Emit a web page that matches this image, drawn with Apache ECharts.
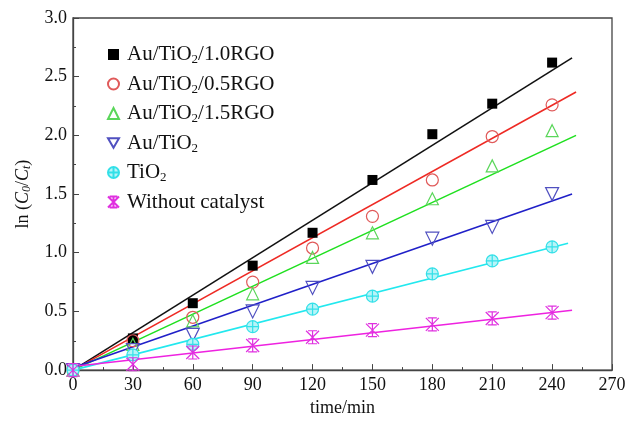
<!DOCTYPE html>
<html><head><meta charset="utf-8">
<script src="https://cdn.jsdelivr.net/npm/echarts@6/dist/echarts.min.js"></script>
<style>html,body{margin:0;padding:0;background:#fff}#c{width:630px;height:422px}</style>
</head><body><div id="c"></div>
<script>
var times = [0, 30, 60, 90, 120, 150, 180, 210, 240];
var names = ['Au/TiO2/1.0RGO', 'Au/TiO2/0.5RGO', 'Au/TiO2/1.5RGO', 'Au/TiO2', 'TiO2', 'Without catalyst'];
var rgo10 = [0, 0.27, 0.57, 0.89, 1.17, 1.62, 2.01, 2.27, 2.62];
var rgo05 = [0, 0.25, 0.45, 0.75, 1.04, 1.31, 1.62, 1.99, 2.26];
var rgo15 = [0, 0.22, 0.42, 0.65, 0.96, 1.17, 1.46, 1.74, 2.04];
var auTiO2 = [0, 0.17, 0.30, 0.50, 0.70, 0.88, 1.12, 1.22, 1.50];
var tiO2 = [0, 0.13, 0.22, 0.37, 0.52, 0.63, 0.82, 0.93, 1.05];
var noCat = [0, 0.05, 0.15, 0.21, 0.28, 0.34, 0.39, 0.44, 0.49];
// fitted lines: [x0, y0, x1, y1]
var fit10 = [0, 0.0, 250, 2.66];
var fit05 = [0, 0.0, 252, 2.37];
var fit15 = [0, 0.0, 252, 2.00];
var fitAu = [0, 0.02, 250, 1.50];
var fitTi = [0, 0.0, 248, 1.08];
var fitNo = [0, 0.03, 250, 0.51];
var xTicks = [0, 30, 60, 90, 120, 150, 180, 210, 240, 270];
var yTicks = ['0.0', '0.5', '1.0', '1.5', '2.0', '2.5', '3.0'];

var pts = [rgo10, rgo05, rgo15, auTiO2, tiO2, noCat];
var fits = [fit10, fit05, fit15, fitAu, fitTi, fitNo];
var lineColors = ['#111111', '#ee2a24', '#1fe01f', '#2020c8', '#22e8ee', '#ee22e0'];
var markColors = ['#000000', '#e05a5a', '#5ad65a', '#5050c0', '#33e0e8', '#e030e0'];
var symbols = [
  'rect', 'circle', 'triangle',
  'path://M-1,-0.87 L1,-0.87 L0,0.87 Z',
  'path://M-1,0 A1,1 0 1,1 1,0 A1,1 0 1,1 -1,0 Z M0,-1 L0,1 M-1,0 L1,0',
  'path://M-1,-1 L1,1 M1,-1 L-1,1 M-0.7,-1 L0.7,-1 M-0.7,1 L0.7,1 M0,-1 L0,1'
];
var sizes = [10, 12, 12, 13, 12, 13];
var fills = ['#000000', 'transparent', 'transparent', 'transparent', '#b8f4f8', 'transparent'];

var series = [];
for (var i = 0; i < 6; i++) {
  var f = fits[i];
  series.push({
    type: 'line', name: 'fit' + i, data: [[f[0], f[1]], [f[2], f[3]]],
    showSymbol: false, symbol: 'none', silent: true, z: 2,
    lineStyle: { color: lineColors[i], width: 1.6 }
  });
}
for (var i = 0; i < 6; i++) {
  series.push({
    type: 'scatter', name: names[i],
    data: times.map(function (t, k) { return [t, pts[i][k]]; }),
    symbol: symbols[i], symbolSize: sizes[i], z: 3,
    itemStyle: { color: fills[i], borderColor: markColors[i], borderWidth: i === 0 ? 0 : 1.2, opacity: 1 }
  });
}

function legFmt(n) {
  if (n === 'Without catalyst') return '{g|}{n|' + n + '}';
  var parts = n.split('2');
  return '{g|}{n|' + parts[0] + '}{s|2}' + (parts[1] ? '{n|' + parts[1] + '}' : '');
}
var serif = '"Liberation Serif", "DejaVu Serif", serif';
var chart = echarts.init(document.getElementById('c'));
chart.setOption({
  animation: false,
  backgroundColor: '#fff',
  grid: { left: 73, right: 18, top: 18, bottom: 46, show: true, borderColor: '#444', borderWidth: 1.3, backgroundColor: 'transparent' },
  legend: {
    orient: 'vertical', left: 102, top: 39, itemGap: 7, itemWidth: 11, itemHeight: 11,
    data: names, formatter: legFmt,
    textStyle: {
      fontFamily: serif, fontSize: 21, color: '#111',
      rich: {
        g: { width: 3, height: 24 },
        n: { fontFamily: serif, fontSize: 21, color: '#111', height: 24 },
        s: { fontFamily: serif, fontSize: 13, color: '#111', padding: [11, 0, 0, 0] }
      }
    }
  },
  xAxis: {
    type: 'value', min: 0, max: 270, interval: 30,
    name: 'time/min', nameLocation: 'middle', nameGap: 28,
    nameTextStyle: { fontFamily: serif, fontSize: 18, color: '#111' },
    axisLine: { show: true, lineStyle: { color: '#444', width: 1.3 } },
    axisTick: { show: true, inside: true, length: 6, lineStyle: { color: '#444' } },
    minorTick: { show: true, splitNumber: 2, length: 3, lineStyle: { color: '#444' } },
    splitLine: { show: false },
    axisLabel: { fontFamily: serif, fontSize: 18, color: '#111', margin: 6,
      formatter: function (v) { return xTicks.indexOf(v) >= 0 ? String(v) : ''; } }
  },
  yAxis: {
    type: 'value', min: 0, max: 3, interval: 0.5,
    name: '{n|ln (}{i|C}{s|0}{n|/}{i|C}{s|t}{n|)}', nameLocation: 'middle', nameGap: 40, nameRotate: 90,
    nameTextStyle: { fontFamily: serif, fontSize: 18, color: '#111',
      rich: {
        n: { fontFamily: serif, fontSize: 18, color: '#111' },
        i: { fontFamily: serif, fontSize: 18, fontStyle: 'italic', color: '#111' },
        s: { fontFamily: serif, fontSize: 12, fontStyle: 'italic', color: '#111', padding: [8, 0, 0, 0] }
      } },
    axisLine: { show: true, lineStyle: { color: '#444', width: 1.3 } },
    axisTick: { show: true, inside: true, length: 6, lineStyle: { color: '#444' } },
    minorTick: { show: true, splitNumber: 2, length: 3, lineStyle: { color: '#444' } },
    splitLine: { show: false },
    axisLabel: { fontFamily: serif, fontSize: 18, color: '#111', margin: 6,
      formatter: function (v) { return yTicks[Math.round(v / 0.5)] || ''; } }
  },
  series: series
});
</script></body></html>
